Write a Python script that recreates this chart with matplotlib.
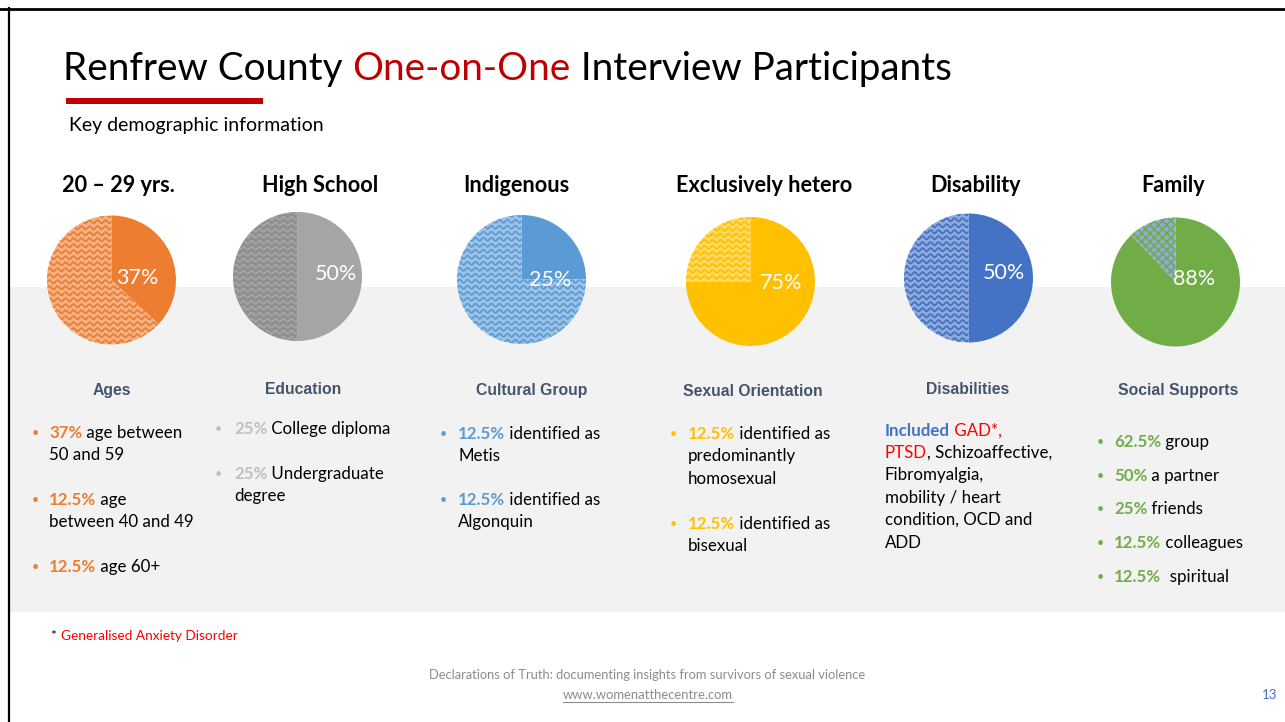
import numpy as np
import matplotlib
matplotlib.use("Agg")
import matplotlib.pyplot as plt
from matplotlib.patches import Rectangle

# ---------------- data ----------------
headers = ["20 – 29 yrs.", "High School", "Indigenous", "Exclusively hetero", "Disability", "Family"]
shown_pct = [37, 50, 25, 75, 50, 88]
categories = ["Ages", "Education", "Cultural Group", "Sexual Orientation", "Disabilities", "Social Supports"]

ages_pct = ["37%", "12.5%", "12.5%"]
ages_text = [["age between", "50 and 59"], ["age", "between 40 and 49"], ["age 60+"]]
edu_pct = ["25%", "25%"]
edu_text = [["College diploma"], ["Undergraduate", "degree"]]
cult_pct = ["12.5%", "12.5%"]
cult_text = [["identified as", "Metis"], ["identified as", "Algonquin"]]
sex_pct = ["12.5%", "12.5%"]
sex_text = [["identified as", "predominantly", "homosexual"], ["identified as", "bisexual"]]
social_pct = ["62.5%", "50%", "25%", "12.5%", "12.5%"]
social_text = [["group"], ["a partner"], ["friends"], ["colleagues"], [" spiritual"]]
disab_lead = "Included"
disab_red = ["GAD*,", "PTSD"]
disab_lines = [", Schizoaffective,", "Fibromyalgia,", "mobility / heart", "condition, OCD and", "ADD"]

# ---------------- styles ----------------
solid_colors = ["#ED7D31", "#A5A5A5", "#5B9BD5", "#FFC000", "#4472C4", "#70AD47"]
light_colors = ["#F4B183", "#8F8F8F", "#9DC3E6", "#FFD966", "#8FAADC", "#8FAADC"]
wave_colors = ["#ED7D31", "#A6A6A6", "#5B9BD5", "#FFC000", "#4472C4", None]
pie_centers = [(111.5, 280), (297.5, 276.5), (521.5, 279.5), (750.5, 281.5), (968.5, 278), (1175.5, 282)]
pie_r = 64.5
label_pos = [(137, 277.5), (335.5, 273.5), (550, 280), (781.5, 283), (1003.5, 272.5), (1194, 279)]
header_x = [118, 320, 516, 764, 975, 1173]
cat_pos = [(112, 391), (303, 389), (532, 390), (753, 391), (968, 389), (1178, 391)]

W, H = 1285, 722
BODY = "Lato"
plt.rcParams["hatch.linewidth"] = 1.2
fig = plt.figure(figsize=(W / 100, H / 100), dpi=100)
ax = fig.add_axes([0, 0, 1, 1])
ax.set_xlim(0, W)
ax.set_ylim(H, 0)
ax.axis("off")
renderer = fig.canvas.get_renderer()


def width_of(t):
    return t.get_window_extent(renderer).width


def rich(x, y, parts, size, family=BODY, va="baseline"):
    """parts: list of (text, color, weight)"""
    cx = x
    for txt, col, wt in parts:
        t = ax.text(cx, y, txt, fontsize=size, color=col, fontweight=wt,
                    family=family, ha="left", va=va)
        cx += width_of(t)
    return cx - x


# background band and slide border
ax.add_patch(Rectangle((10, 287), W - 10, 325, facecolor="#F2F2F2", edgecolor="none", zorder=0))
ax.plot([0, W], [8.5, 8.5], color="black", lw=2, clip_on=False)
ax.plot([9, 9], [8, H], color="black", lw=1.6, clip_on=False)

# title (fit to target width)
title_parts = [("Renfrew County ", "black", "normal"), ("One-on-One", "#C00000", "normal"),
               (" Interview Participants", "black", "normal")]
probe = ax.text(0, 0, "".join(p[0] for p in title_parts), fontsize=30, family=BODY)
tsize = 30 * 887 / width_of(probe)
probe.remove()
rich(63, 80, title_parts, tsize)
ax.add_patch(Rectangle((66, 98), 197, 6, facecolor="#C00000", edgecolor="none"))
ax.text(69, 125, "Key demographic information", fontsize=14, family=BODY, va="center", ha="left")

# headers
for hx, h in zip(header_x, headers):
    ax.text(hx, 185, h, fontsize=15.6, fontweight="bold", family=BODY, ha="center", va="center")

# pies
for i, (val, (cx, cy)) in enumerate(zip(shown_pct, pie_centers)):
    pax = fig.add_axes([(cx - pie_r) / W, 1 - (cy + pie_r) / H, 2 * pie_r / W, 2 * pie_r / H])
    wedges, _ = pax.pie([val, 100 - val], radius=1, startangle=90, counterclock=False,
                        colors=[solid_colors[i], light_colors[i]],
                        wedgeprops=dict(linewidth=0))
    pax.set_xlim(-1, 1)
    pax.set_ylim(-1, 1)
    pax.set_aspect("equal")
    pax.axis("off")
    hw = wedges[1]
    if wave_colors[i] is not None:
        step = 6 / pie_r
        period = 8 / pie_r
        amp = 1.6 / pie_r
        xs = np.linspace(-1.05, 1.05, 600)
        for y0 in np.arange(-1.05, 1.05, step):
            ln, = pax.plot(xs, y0 + amp * np.sin(2 * np.pi * xs / period),
                           color=wave_colors[i], lw=1.3, solid_capstyle="butt")
            ln.set_clip_path(hw)
    else:
        hw.set_hatch("xxxx")
        hw.set_edgecolor(solid_colors[i])
    lx, ly = label_pos[i]
    pax.text((lx - cx) / pie_r, -(ly - cy) / pie_r, f"{val}%", color="white", fontsize=15.5,
             family=BODY, ha="center", va="center")

# category labels
for (cxp, cyp), c in zip(cat_pos, categories):
    ax.text(cxp, cyp, c, fontsize=11.3, fontweight="bold", color="#44546A",
            family="Liberation Sans", ha="center", va="center")

BS = 12.2  # body size


def bullets(xb, xt, ys, pcts, texts, color, lh=22.3):
    for y, p, lines in zip(ys, pcts, texts):
        base = y + 5
        ax.text(xb, y, "•", color=color, fontsize=9, family=BODY, ha="center", va="center")
        rich(xt, base, [(p, color, "bold"), (" " + lines[0], "black", "normal")], BS)
        for k, l in enumerate(lines[1:], start=1):
            ax.text(xt, base + k * lh, l, fontsize=BS, family=BODY, ha="left", va="baseline")


bullets(35, 49, [433, 500, 567], ages_pct, ages_text, "#ED7D31")
bullets(218, 234, [429, 474], edu_pct, edu_text, "#BFBFBF")
bullets(443, 458, [434, 500], cult_pct, cult_text, "#5B9BD5")
bullets(673, 688, [434, 524], sex_pct, sex_text, "#FFC000")
bullets(1100, 1114, [442, 476, 509, 543, 577], social_pct, social_text, "#70AD47")

# disabilities paragraph
dys = [431, 453, 475, 498, 520, 543]
rich(885, dys[0] + 5, [(disab_lead, "#4472C4", "bold"), (" " + disab_red[0], "#FF0000", "normal")], BS)
rich(885, dys[1] + 5, [(disab_red[1], "#FF0000", "normal"), (disab_lines[0], "black", "normal")], BS)
for y, l in zip(dys[2:], disab_lines[1:]):
    ax.text(885, y + 5, l, fontsize=BS, family=BODY, ha="left", va="baseline")

# footnote and footer
ax.text(50, 640, "*", fontsize=9.8, family=BODY, ha="left", va="baseline")
ax.text(61, 640, "Generalised Anxiety Disorder", fontsize=9.8, color="#FF0000", family=BODY,
        ha="left", va="baseline")
ax.text(647.5, 675, "Declarations of Truth: documenting insights from survivors of sexual violence",
        fontsize=9.25, color="#8C8C8C", family=BODY, ha="center", va="center")
ft = ax.text(647.5, 695, "www.womenatthecentre.com", fontsize=9.4, color="#8C8C8C", family=BODY,
             ha="center", va="center")
fw = width_of(ft)
ax.plot([647.5 - fw / 2, 647.5 + fw / 2], [702, 702], color="#8C8C8C", lw=0.8)
ax.text(1270, 695, "13", fontsize=9.5, color="#4472C4", family=BODY, ha="center", va="center")

fig.savefig("out.png", dpi=100)
